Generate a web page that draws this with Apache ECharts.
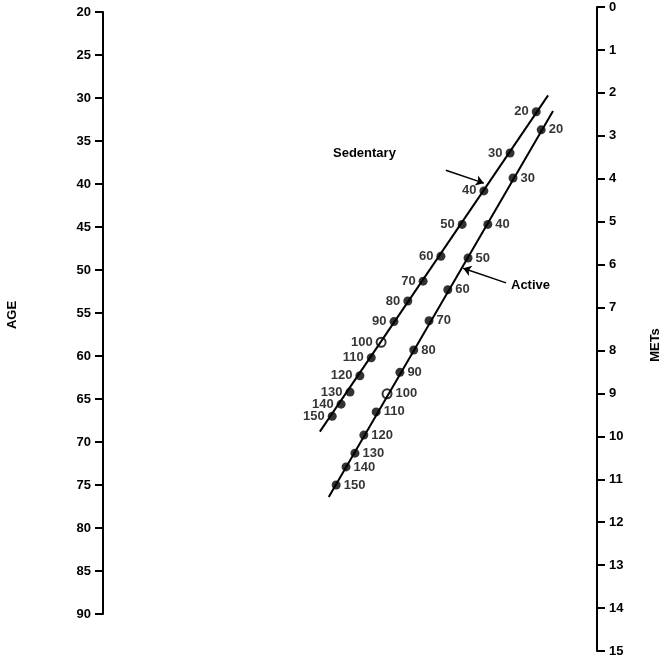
<!DOCTYPE html>
<html><head><meta charset="utf-8">
<script src="https://cdn.jsdelivr.net/npm/echarts@6/dist/echarts.min.js"></script>
<style>html,body{margin:0;padding:0;background:#fff}#c{width:665px;height:660px}</style>
</head><body><div id="c"></div>
<script>
const heartRates = [20,30,40,50,60,70,80,90,100,110,120,130,140,150];
const sedX = [87.7,82.4,77.1,72.7,68.4,64.8,61.7,58.9,56.3,54.3,52.0,50.0,48.2,46.4];
const sedAge = [31.6,36.4,40.8,44.7,48.4,51.3,53.6,56.0,58.4,60.2,62.3,64.2,65.6,67.0];
const actX = [88.7,83.0,77.9,73.9,69.8,66.0,62.9,60.1,57.5,55.3,52.8,51.0,49.2,47.2];
const actAge = [33.7,39.3,44.7,48.6,52.3,55.9,59.3,61.9,64.4,66.5,69.2,71.3,72.9,75.0];
const sedLine = [[90.1,29.7],[43.9,68.8]];
const actLine = [[91.1,31.5],[45.7,76.4]];
const sedArrow = [[69.4,38.4],[77.1,39.9]];
const actArrow = [[81.6,51.5],[72.9,49.8]];
const openRate = 100;

const F = {fontFamily:'Liberation Sans', fontWeight:'bold', fontSize:13, color:'#000'};
function pts(xs, ys){
  return heartRates.map((h,i)=>({value:[xs[i],ys[i]], name:String(h),
    itemStyle: h===openRate ? {color:'#fff', borderColor:'#000', borderWidth:2} : {color:'#000'}}));
}
const chart = echarts.init(document.getElementById('c'));
chart.setOption({
  animation:false,
  grid:[{left:103,right:68,top:12,bottom:46},{left:103,right:68,top:7,bottom:9}],
  xAxis:[{gridIndex:0,type:'value',min:0,max:100,show:false},
         {gridIndex:1,type:'value',min:0,max:100,show:false}],
  yAxis:[
    {gridIndex:0,type:'value',min:20,max:90,interval:5,inverse:true,position:'left',
     axisLine:{show:true,onZero:false,lineStyle:{color:'#000',width:2}},
     axisTick:{show:true,length:8,lineStyle:{color:'#000',width:2}},
     axisLabel:{...F,margin:12},splitLine:{show:false}},
    {gridIndex:1,type:'value',min:0,max:15,interval:1,inverse:true,position:'right',
     axisLine:{show:true,onZero:false,lineStyle:{color:'#000',width:2}},
     axisTick:{show:true,length:8,lineStyle:{color:'#000',width:2}},
     axisLabel:{...F,margin:12},splitLine:{show:false}}
  ],
  series:[
    {type:'line',data:sedLine,symbol:'none',lineStyle:{color:'#000',width:2},
     markLine:{symbol:['none','arrow'],symbolSize:8,silent:true,label:{show:false},
       lineStyle:{color:'#000',width:1.5,type:'solid'},
       data:[[{coord:sedArrow[0]},{coord:sedArrow[1]}]]}},
    {type:'line',data:actLine,symbol:'none',lineStyle:{color:'#000',width:2},
     markLine:{symbol:['none','arrow'],symbolSize:8,silent:true,label:{show:false},
       lineStyle:{color:'#000',width:1.5,type:'solid'},
       data:[[{coord:actArrow[0]},{coord:actArrow[1]}]]}},
    {type:'scatter',data:pts(sedX,sedAge),symbolSize:9,
     label:{show:true,position:'left',distance:3,formatter:'{b}',...F}},
    {type:'scatter',data:pts(actX,actAge),symbolSize:9,
     label:{show:true,position:'right',distance:3,formatter:'{b}',...F}}
  ],
  graphic:[
    {type:'text',left:333,top:147,style:{text:'Sedentary',font:'bold 13px "Liberation Sans"',fill:'#000'}},
    {type:'text',left:511,top:279,style:{text:'Active',font:'bold 13px "Liberation Sans"',fill:'#000'}},
    {type:'text',x:12,y:315,rotation:Math.PI/2,style:{text:'AGE',font:'bold 13px "Liberation Sans"',fill:'#000',align:'center',verticalAlign:'middle'}},
    {type:'text',x:655,y:345,rotation:Math.PI/2,style:{text:'METs',font:'bold 13px "Liberation Sans"',fill:'#000',align:'center',verticalAlign:'middle'}}
  ]
});
</script></body></html>
